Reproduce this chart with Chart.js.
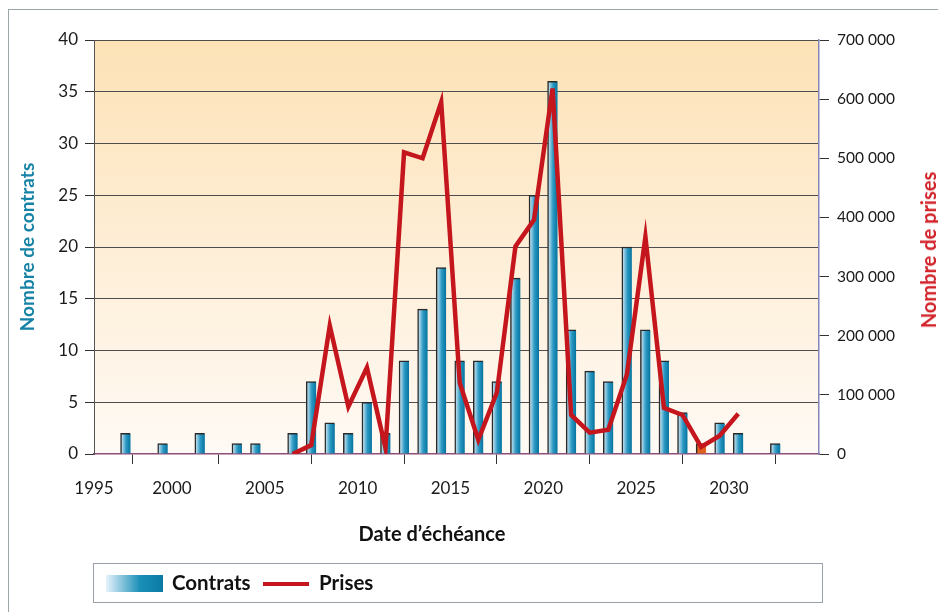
<!DOCTYPE html>
<html><head><meta charset="utf-8">
<script src="https://cdn.jsdelivr.net/npm/chart.js@4.4.1/dist/chart.umd.min.js"></script>
<style>
html,body{margin:0;padding:0;background:#fff;}
#wrap{position:relative;width:938px;height:612px;overflow:hidden;background:#fff;}
#frame{position:absolute;left:8px;top:9px;width:960px;height:640px;border-left:1px solid #9aa6a8;border-top:1px solid #9aa6a8;}
canvas{position:absolute;left:0;top:0;}
#legend{position:absolute;left:93px;top:563px;width:730px;height:40px;border:1px solid #9aa0a8;box-sizing:border-box;font:bold 20.5px Lato, sans-serif;color:#111;}
#legend .sw{position:absolute;left:12px;top:11px;width:57px;height:17px;background:linear-gradient(to right,#e6f3fb,#1a8fb8 60%,#0a7aa3);}
#legend .t1{position:absolute;left:78px;top:6px;}
#legend .ln{position:absolute;left:169px;top:18px;width:46px;height:4px;background:#c4161c;}
#legend .t2{position:absolute;left:225px;top:6px;}
#rtitle{position:absolute;left:928px;top:250px;transform:translate(-50%,-50%) rotate(-90deg);white-space:nowrap;font:bold 20px Lato, sans-serif;color:#d2232a;}
#xtitle{position:absolute;left:432px;top:533px;transform:translate(-50%,-50%);white-space:nowrap;font:bold 20px Lato, sans-serif;color:#111;}
</style></head>
<body>
<div id="wrap">
<div id="frame"></div>
<canvas id="c" width="938" height="612"></canvas>
<div id="rtitle">Nombre de prises</div>
<div id="xtitle">Date d’échéance</div>
<div id="legend"><div class="sw"></div><span class="t1">Contrats</span><div class="ln"></div><span class="t2">Prises</span></div>
</div>
<script>
// ---- data ----
const contractYears = [1997,1999,2001,2003,2004,2006,2007,2008,2009,2010,2011,2012,2013,2014,2015,2016,2017,2018,2019,2020,2021,2022,2023,2024,2025,2026,2027,2028,2029,2030,2032];
const contracts     = [2,1,2,1,1,2,7,3,2,5,2,9,14,18,9,9,7,17,25,36,12,8,7,20,12,9,4,1,3,2,1];
const priseYears = [2006,2007,2008,2009,2010,2011,2012,2013,2014,2015,2016,2017,2018,2019,2020,2021,2022,2023,2024,2025,2026,2027,2028,2029,2030];
const prises     = [0,15000,217000,80000,146000,10000,510000,500000,595000,120000,24000,104000,351000,396000,618000,66000,36000,41000,134000,367000,78000,66000,12000,31000,68000];
const xTickLabels = ['1995','2000','2005','2010','2015','2020','2025','2030'];
const highlightYear = 2028;

const FONT = 'Lato, sans-serif';

const bgPlugin = {
  id:'plotBg',
  beforeDraw(chart){
    const {ctx, chartArea:a} = chart;
    if(!a) return;
    const g = ctx.createLinearGradient(0,a.top,0,a.bottom);
    g.addColorStop(0,'#fde2b6');
    g.addColorStop(0.55,'#feefd9');
    g.addColorStop(1,'#fffaf5');
    ctx.save(); ctx.fillStyle = g; ctx.fillRect(a.left,a.top,a.right-a.left,a.bottom-a.top); ctx.restore();
  }
};

function barFill(c){
  const chart = c.chart, xs = chart.scales && chart.scales.x;
  if(c.type !== 'data' || !xs || !c.raw) return '#2a95bd';
  if(c.raw.x === highlightYear) return '#e0621e';
  const px = xs.getPixelForValue(c.raw.x);
  if(!isFinite(px)) return '#2a95bd';
  const g = chart.ctx.createLinearGradient(px-5,0,px+5,0);
  g.addColorStop(0,'#e2f1fa');
  g.addColorStop(0.55,'#2a98c2');
  g.addColorStop(1,'#04739e');
  return g;
}

new Chart(document.getElementById('c'), {
  type:'bar',
  data:{
    datasets:[
      { type:'line', label:'Prises', yAxisID:'y2', order:0,
        data: priseYears.map((yr,i)=>({x:yr, y:prises[i]})),
        borderColor:'#c4161c', borderWidth:4.5, pointRadius:0, tension:0, fill:false,
        borderJoinStyle:'miter' },
      { type:'bar', label:'Contrats', yAxisID:'y', order:1,
        data: contractYears.map((yr,i)=>({x:yr, y:contracts[i]})),
        backgroundColor: barFill, barThickness:10,
        borderColor:'#2a2a2a', borderWidth:{top:1.5,left:1.5,right:0,bottom:0}, borderSkipped:false }
    ]
  },
  options:{
    responsive:false, animation:false,
    layout:{padding:{left:0,right:0,top:40,bottom:67}},
    plugins:{legend:{display:false}, tooltip:{enabled:false}},
    scales:{
      x:{ type:'linear', min:1995.3, max:2034.35, offset:false,
        afterBuildTicks(s){ s.ticks = [1995.3,1999.5,2004.5,2009.5,2014.5,2019.5,2024.5,2029.5].map(v=>({value:v})); },
        ticks:{ callback:(v,i)=>xTickLabels[i], color:'#1a1a1a', font:{family:FONT,size:17}, padding:14, maxRotation:0, autoSkip:false },
        grid:{ drawOnChartArea:false, tickLength:10, tickColor:'#333', lineWidth:1 },
        border:{ color:'#8e4f78', width:1.5 },
        afterFit(s){ s.height = 91; }
      },
      y:{ position:'left', min:0, max:40,
        ticks:{ stepSize:5, color:'#1a1a1a', font:{family:FONT,size:17}, padding:7 },
        grid:{ color:(c)=> c.tick && c.tick.value===0 ? 'rgba(0,0,0,0)' : '#4d4d4d', lineWidth:1, tickLength:9, tickColor:'#333' },
        border:{ color:'#555', width:1 },
        title:{ display:true, text:'Nombre de contrats', color:'#1683a6', font:{family:FONT,size:19,weight:'bold'}, padding:{top:16,bottom:0} },
        afterFit(s){ s.width = 94; }
      },
      y2:{ position:'right', min:0, max:700000,
        ticks:{ stepSize:100000, color:'#1a1a1a', font:{family:FONT,size:15.5}, padding:8,
          callback:(v)=> v.toLocaleString('fr-FR').replace(/\s|\u202f|\u00a0/g,' ') },
        grid:{ drawOnChartArea:false, tickLength:10, tickColor:'#333' },
        border:{ color:'#8585bb', width:1.5 },
        afterFit(s){ s.width = 119; }
      }
    }
  },
  plugins:[bgPlugin]
});
</script>
</body></html>
